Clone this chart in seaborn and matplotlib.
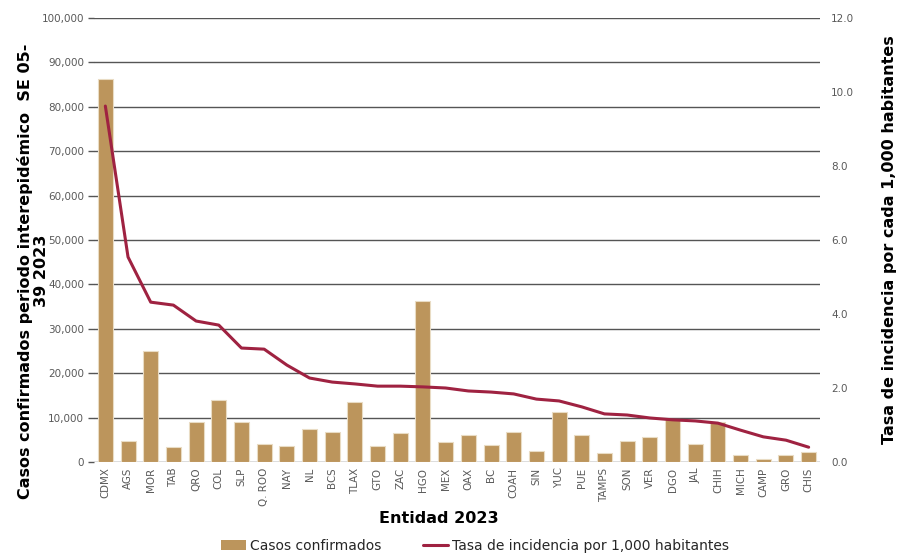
import matplotlib
matplotlib.use("Agg")
import matplotlib.pyplot as plt
import numpy as np
import pandas as pd
import seaborn as sns
from matplotlib.patches import Patch
from matplotlib.lines import Line2D
from matplotlib.ticker import FuncFormatter, MultipleLocator

sns.set_theme(style="white")
plt.rcParams["font.family"] = ["DejaVu Sans"]

GOLD = "#bc955c"
WINE = "#9f2241"
GREY = "#595959"

states = ["CDMX", "AGS", "MOR", "TAB", "QRO", "COL", "SLP", "Q. ROO", "NAY", "NL",
          "BCS", "TLAX", "GTO", "ZAC", "HGO", "MEX", "OAX", "BC", "COAH", "SIN",
          "YUC", "PUE", "TAMPS", "SON", "VER", "DGO", "JAL", "CHIH", "MICH", "CAMP",
          "GRO", "CHIS"]
cases = [86300, 4700, 25100, 3400, 9000, 14000, 8900, 4000, 3600, 7400,
         6800, 13500, 3600, 6500, 36300, 4500, 6100, 3900, 6800, 2500,
         11200, 6000, 2000, 4800, 5700, 9700, 4000, 9100, 1500, 600,
         1500, 2300]
rate = [9.62, 5.54, 4.32, 4.24, 3.81, 3.70, 3.08, 3.05, 2.62, 2.27,
        2.16, 2.11, 2.05, 2.05, 2.03, 2.00, 1.92, 1.89, 1.84, 1.70,
        1.65, 1.49, 1.30, 1.27, 1.19, 1.14, 1.11, 1.05, 0.86, 0.68,
        0.59, 0.40]

df = pd.DataFrame({"entidad": states, "casos": cases, "tasa": rate})

fig = plt.figure(figsize=(8.97, 5.53), dpi=100)
ax = fig.add_axes([94 / 897, 1 - 462 / 553, (820 - 94) / 897, (462 - 18) / 553])

sns.barplot(data=df, x="entidad", y="casos", color=GOLD, width=0.66,
            edgecolor="#e9dcc4", linewidth=0.8, saturation=1, ax=ax, zorder=2)
ax.set_ylim(0, 100000)
ax.set_xlim(-0.5, len(states) - 0.5)
ax.yaxis.set_major_locator(MultipleLocator(10000))
ax.yaxis.set_major_formatter(FuncFormatter(lambda v, _: f"{v:,.0f}"))
ax.grid(axis="y", color="#555555", linewidth=1.0, zorder=0)
ax.set_axisbelow(True)
ax.tick_params(axis="y", labelsize=7.5, labelcolor=GREY, left=True, length=4,
               color="#555555", width=1.0, pad=3)
ax.tick_params(axis="x", labelsize=7.4, labelcolor=GREY, rotation=90, length=0, pad=4)
for s in ax.spines.values():
    s.set_visible(False)

ax.set_xlabel("Entidad 2023", fontsize=11.5, fontweight="bold", color="black", labelpad=6)
ax.xaxis.set_label_coords(0.475, -0.11)
ax.set_ylabel("Casos confirmados periodo interepidémico  SE 05-\n39 2023",
              fontsize=11.5, fontweight="bold", color="black", linespacing=1.05)
ax.yaxis.set_label_coords(-0.062, 0.43)

ax2 = ax.twinx()
sns.lineplot(data=df, x="entidad", y="tasa", color=WINE, linewidth=2.2,
             sort=False, ax=ax2, zorder=3)
ax2.set_ylim(0, 12)
ax2.yaxis.set_major_locator(MultipleLocator(2))
ax2.yaxis.set_major_formatter(FuncFormatter(lambda v, _: f"{v:.1f}"))
ax2.tick_params(axis="y", labelsize=7.5, labelcolor=GREY, right=False, length=0, pad=8)
ax2.grid(False)
for s in ax2.spines.values():
    s.set_visible(False)
ax2.set_ylabel("Tasa de incidencia por cada 1,000 habitantes", fontsize=11.5,
               fontweight="bold", color="black", rotation=90, labelpad=20)

handles = [Patch(facecolor=GOLD, edgecolor="none"),
           Line2D([0], [0], color=WINE, linewidth=2.2)]
fig.legend(handles, ["Casos confirmados", "Tasa de incidencia por 1,000 habitantes"],
           loc="center", bbox_to_anchor=(475 / 897, 1 - 546 / 553), ncol=2,
           frameon=False, fontsize=10, handlelength=1.8, handletextpad=0.3,
           columnspacing=3.0)

fig.savefig("out.png", dpi=100)
